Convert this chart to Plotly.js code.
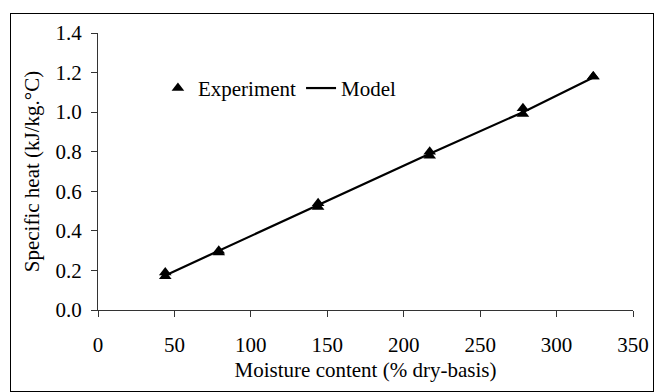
<!DOCTYPE html>
<html>
<head>
<meta charset="utf-8">
<script src="https://cdn.plot.ly/plotly-3.0.1.min.js"></script>
<style>
html,body{margin:0;padding:0;background:#fff;}
#wrap{position:relative;width:654px;height:392px;}
#chart{position:absolute;left:0;top:0;width:654px;height:392px;}
#frame{position:absolute;left:10px;top:13px;width:642px;height:377px;border:1px solid #000;pointer-events:none;}
</style>
</head>
<body>
<div id="wrap"><div id="chart"></div><div id="frame"></div></div>
<script>
// Experiment: duplicate measurements at each moisture content
const expX = [44, 44, 79, 79, 144, 144, 217, 217, 278, 278, 324, 324];
const expY = [0.19, 0.17, 0.30, 0.29, 0.54, 0.52, 0.80, 0.78, 1.02, 0.99, 1.18, 1.18];
// Model line
const modelX = [44, 79, 144, 217, 278, 324];
const modelY = [0.175, 0.30, 0.53, 0.79, 1.00, 1.175];

const xTicks = [0, 50, 100, 150, 200, 250, 300, 350];
const yTicks = [0.0, 0.2, 0.4, 0.6, 0.8, 1.0, 1.2, 1.4];
const yTickText = ["0.0", "0.2", "0.4", "0.6", "0.8", "1.0", "1.2", "1.4"];

const font = {family: "Liberation Serif", size: 21, color: "#000"};

const traces = [
  {
    x: modelX, y: modelY, type: "scatter", mode: "lines", name: "Model",
    line: {color: "#000", width: 2.2}, legendrank: 2
  },
  {
    x: expX, y: expY, type: "scatter", mode: "markers", name: "Experiment",
    marker: {symbol: "triangle-up", size: 11, color: "#000"}, legendrank: 1
  }
];

const layout = {
  width: 654, height: 392,
  margin: {l: 98, r: 21, t: 33, b: 82},
  paper_bgcolor: "#fff", plot_bgcolor: "#fff",
  font: font,
  showlegend: true,
  legend: {
    orientation: "h", x: 0.112, y: 0.80, xanchor: "left", yanchor: "middle",
    bgcolor: "rgba(0,0,0,0)", font: font, traceorder: "normal", itemwidth: 30
  },
  xaxis: {
    range: [0, 350], tickvals: xTicks, ticktext: xTicks.map(String),
    showgrid: false, zeroline: false, showline: true, linecolor: "#333", linewidth: 1,
    ticks: "outside", ticklen: 6, tickcolor: "#333", tickfont: font,
    ticklabelstandoff: 10,
    title: {text: "Moisture content (% dry-basis)", font: font, standoff: 6}
  },
  yaxis: {
    range: [0, 1.4], tickvals: yTicks, ticktext: yTickText,
    showgrid: false, zeroline: false, showline: true, linecolor: "#333", linewidth: 1,
    ticks: "outside", ticklen: 6, tickcolor: "#333", tickfont: font,
    ticklabelstandoff: 5,
    title: {text: "Specific heat (kJ/kg.°C)", font: font, standoff: 10}
  }
};

Plotly.newPlot("chart", traces, layout, {displayModeBar: false, staticPlot: true});
</script>
</body>
</html>
